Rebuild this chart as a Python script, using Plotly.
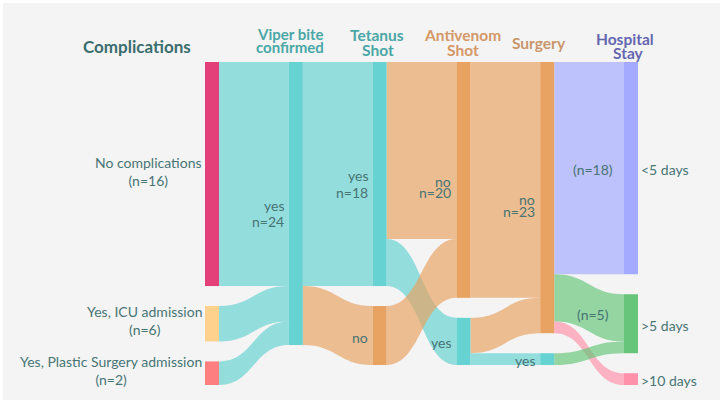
import plotly.graph_objects as go

# ---------------- data ----------------
node_labels = ["No complications", "Yes, ICU admission", "Yes, Plastic Surgery admission",
               "yes", "yes", "no", "no", "yes", "no", "yes",
               "<5 days", ">5 days", ">10 days"]
node_columns = [0, 0, 0, 1, 2, 2, 3, 3, 4, 4, 5, 5, 5]
complication_counts = ["(n=16)", "(n=6)", "(n=2)"]
node_counts = {3: "n=24", 4: "n=18", 6: "n=20", 8: "n=23"}
link_source = [0, 1, 2, 3, 3, 4, 4, 5, 6, 7, 7, 8, 8, 8, 9]
link_target = [3, 3, 3, 4, 5, 6, 7, 6, 8, 8, 9, 10, 11, 12, 11]
link_value = [19, 3, 2, 19, 5, 15, 4, 5, 20, 3, 1, 18, 4, 1, 1]
link_count_labels = ["(n=18)", "(n=5)"]
header_titles = ["Complications", "Viper bite", "confirmed", "Tetanus", "Shot",
                 "Antivenom", "Shot", "Surgery", "Hospital", "Stay"]

# ---------------- style / layout ----------------
FIG_W, FIG_H = 725, 405
ML, MR, MT, MB = 205, 87, 62, 20
PW, PH = FIG_W - ML - MR, FIG_H - MT - MB
THICK, PAD = 14, 20
NCOLS = 6

teal = "rgb(102,210,210)"
orange = "rgb(232,162,98)"
node_colors = ["#e3407a", "#fed18c", "#fe7f7f", teal, teal, orange, orange, teal,
               orange, teal, "#a3aaff", "#66c57a", "#ff92aa"]


def rgba(c, a):
    if c.startswith("#"):
        r, g, b = int(c[1:3], 16), int(c[3:5], 16), int(c[5:7], 16)
    else:
        r, g, b = [int(v) for v in c[4:-1].split(",")]
    return f"rgba({r},{g},{b},{a})"


link_colors = [rgba(node_colors[t], 0.68) for t in link_target]

# node values and positions (stacked from the top of each column)
n = len(node_labels)
vin = [0] * n
vout = [0] * n
for s, t, v in zip(link_source, link_target, link_value):
    vout[s] += v
    vin[t] += v
node_val = [max(a, b) for a, b in zip(vin, vout)]
cols = {}
for i, c in enumerate(node_columns):
    cols.setdefault(c, []).append(i)
ky = min((PH - (len(ids) - 1) * PAD) / sum(node_val[i] for i in ids) for ids in cols.values())
step = (PW - THICK) / (NCOLS - 1)
centers = [0] * n
lefts = [0] * n
for c, ids in cols.items():
    off = 0
    for i in ids:
        h = node_val[i] * ky
        centers[i] = off + h / 2
        lefts[i] = c * step
        off += h + PAD
node_x = [(lefts[i] + THICK / 2) / PW for i in range(n)]
node_y = [centers[i] / PH for i in range(n)]

fig = go.Figure(go.Sankey(
    arrangement="fixed",
    node=dict(label=[""] * n, color=node_colors, pad=PAD, thickness=THICK,
              line=dict(width=0), x=node_x, y=node_y),
    link=dict(source=link_source, target=link_target, value=link_value,
              color=link_colors),
))


def px2x(px):
    return (px - ML) / PW


def py2y(py):
    return 1 - (py - MT) / PH


TXT = "#477474"
FONT = "Lato"
ann = []

# complications labels (left of first column)
for i in cols[0]:
    ann.append(dict(text=f"{node_labels[i]}<br>{complication_counts[i]}",
                    x=px2x(ML + lefts[i] - 1), y=py2y(MT + centers[i] - 3),
                    xanchor="right", yanchor="middle", align="center"))

# middle node labels (left of node)
second_gap = {3: 17, 4: 17, 6: 11.5, 8: 12}
for c in range(1, 5):
    for i in cols[c]:
        cy = MT + centers[i] + 1.5
        xr = ML + lefts[i] - 3
        ann.append(dict(text=node_labels[i], x=px2x(xr), y=py2y(cy),
                        xanchor="right", yanchor="middle"))
        if i in node_counts:
            ann.append(dict(text=node_counts[i], x=px2x(xr), y=py2y(cy + second_gap[i]),
                            xanchor="right", yanchor="middle"))

# last column labels (right of node)
for i in cols[5]:
    ann.append(dict(text=node_labels[i], x=px2x(ML + lefts[i] + THICK + 1),
                    y=py2y(MT + centers[i] + 1.5), xanchor="left", yanchor="middle"))

# link count labels
link_label_pos = [(593, MT + centers[10] + 1.5), (593, MT + centers[11] - 9)]
for txt, (xp, yp) in zip(link_count_labels, link_label_pos):
    ann.append(dict(text=txt, x=px2x(xp), y=py2y(yp), xanchor="center", yanchor="middle"))

for a in ann:
    a.update(xref="paper", yref="paper", showarrow=False,
             font=dict(family=FONT, size=14, color=TXT))

# headers
header_pos = [(137, 47, 17), (290, 33.5, 15), (290, 47.5, 15), (377, 35.5, 15.5), (378, 49.5, 15.5),
              (462, 35.5, 15.5), (463, 49.5, 15.5), (539, 43, 15.5), (625, 38.5, 15.5), (628, 53, 15.5)]
header_colors = ["#3a6d6d", "#4aa7a7", "#4aa7a7", "#4aa7a7", "#4aa7a7",
                 "#d49868", "#d49868", "#c9966b", "#6466b0", "#6466b0"]
for t, (xp, yp, fs), col in zip(header_titles, header_pos, header_colors):
    ann.append(dict(text=f"<b>{t}</b>", x=px2x(xp), y=py2y(yp), xref="paper", yref="paper",
                    xanchor="center", yanchor="middle", showarrow=False,
                    font=dict(family=FONT, size=fs, color=col)))

fig.update_layout(
    width=FIG_W, height=FIG_H,
    margin=dict(l=ML, r=MR, t=MT, b=MB),
    paper_bgcolor="white",
    font=dict(family=FONT, size=14, color=TXT),
    annotations=ann,
    shapes=[dict(type="rect", xref="paper", yref="paper", layer="below",
                 x0=px2x(3), x1=px2x(720), y0=py2y(400), y1=py2y(3),
                 fillcolor="#f4f4f4", line=dict(width=0))],
)

fig.write_html("out.html")
